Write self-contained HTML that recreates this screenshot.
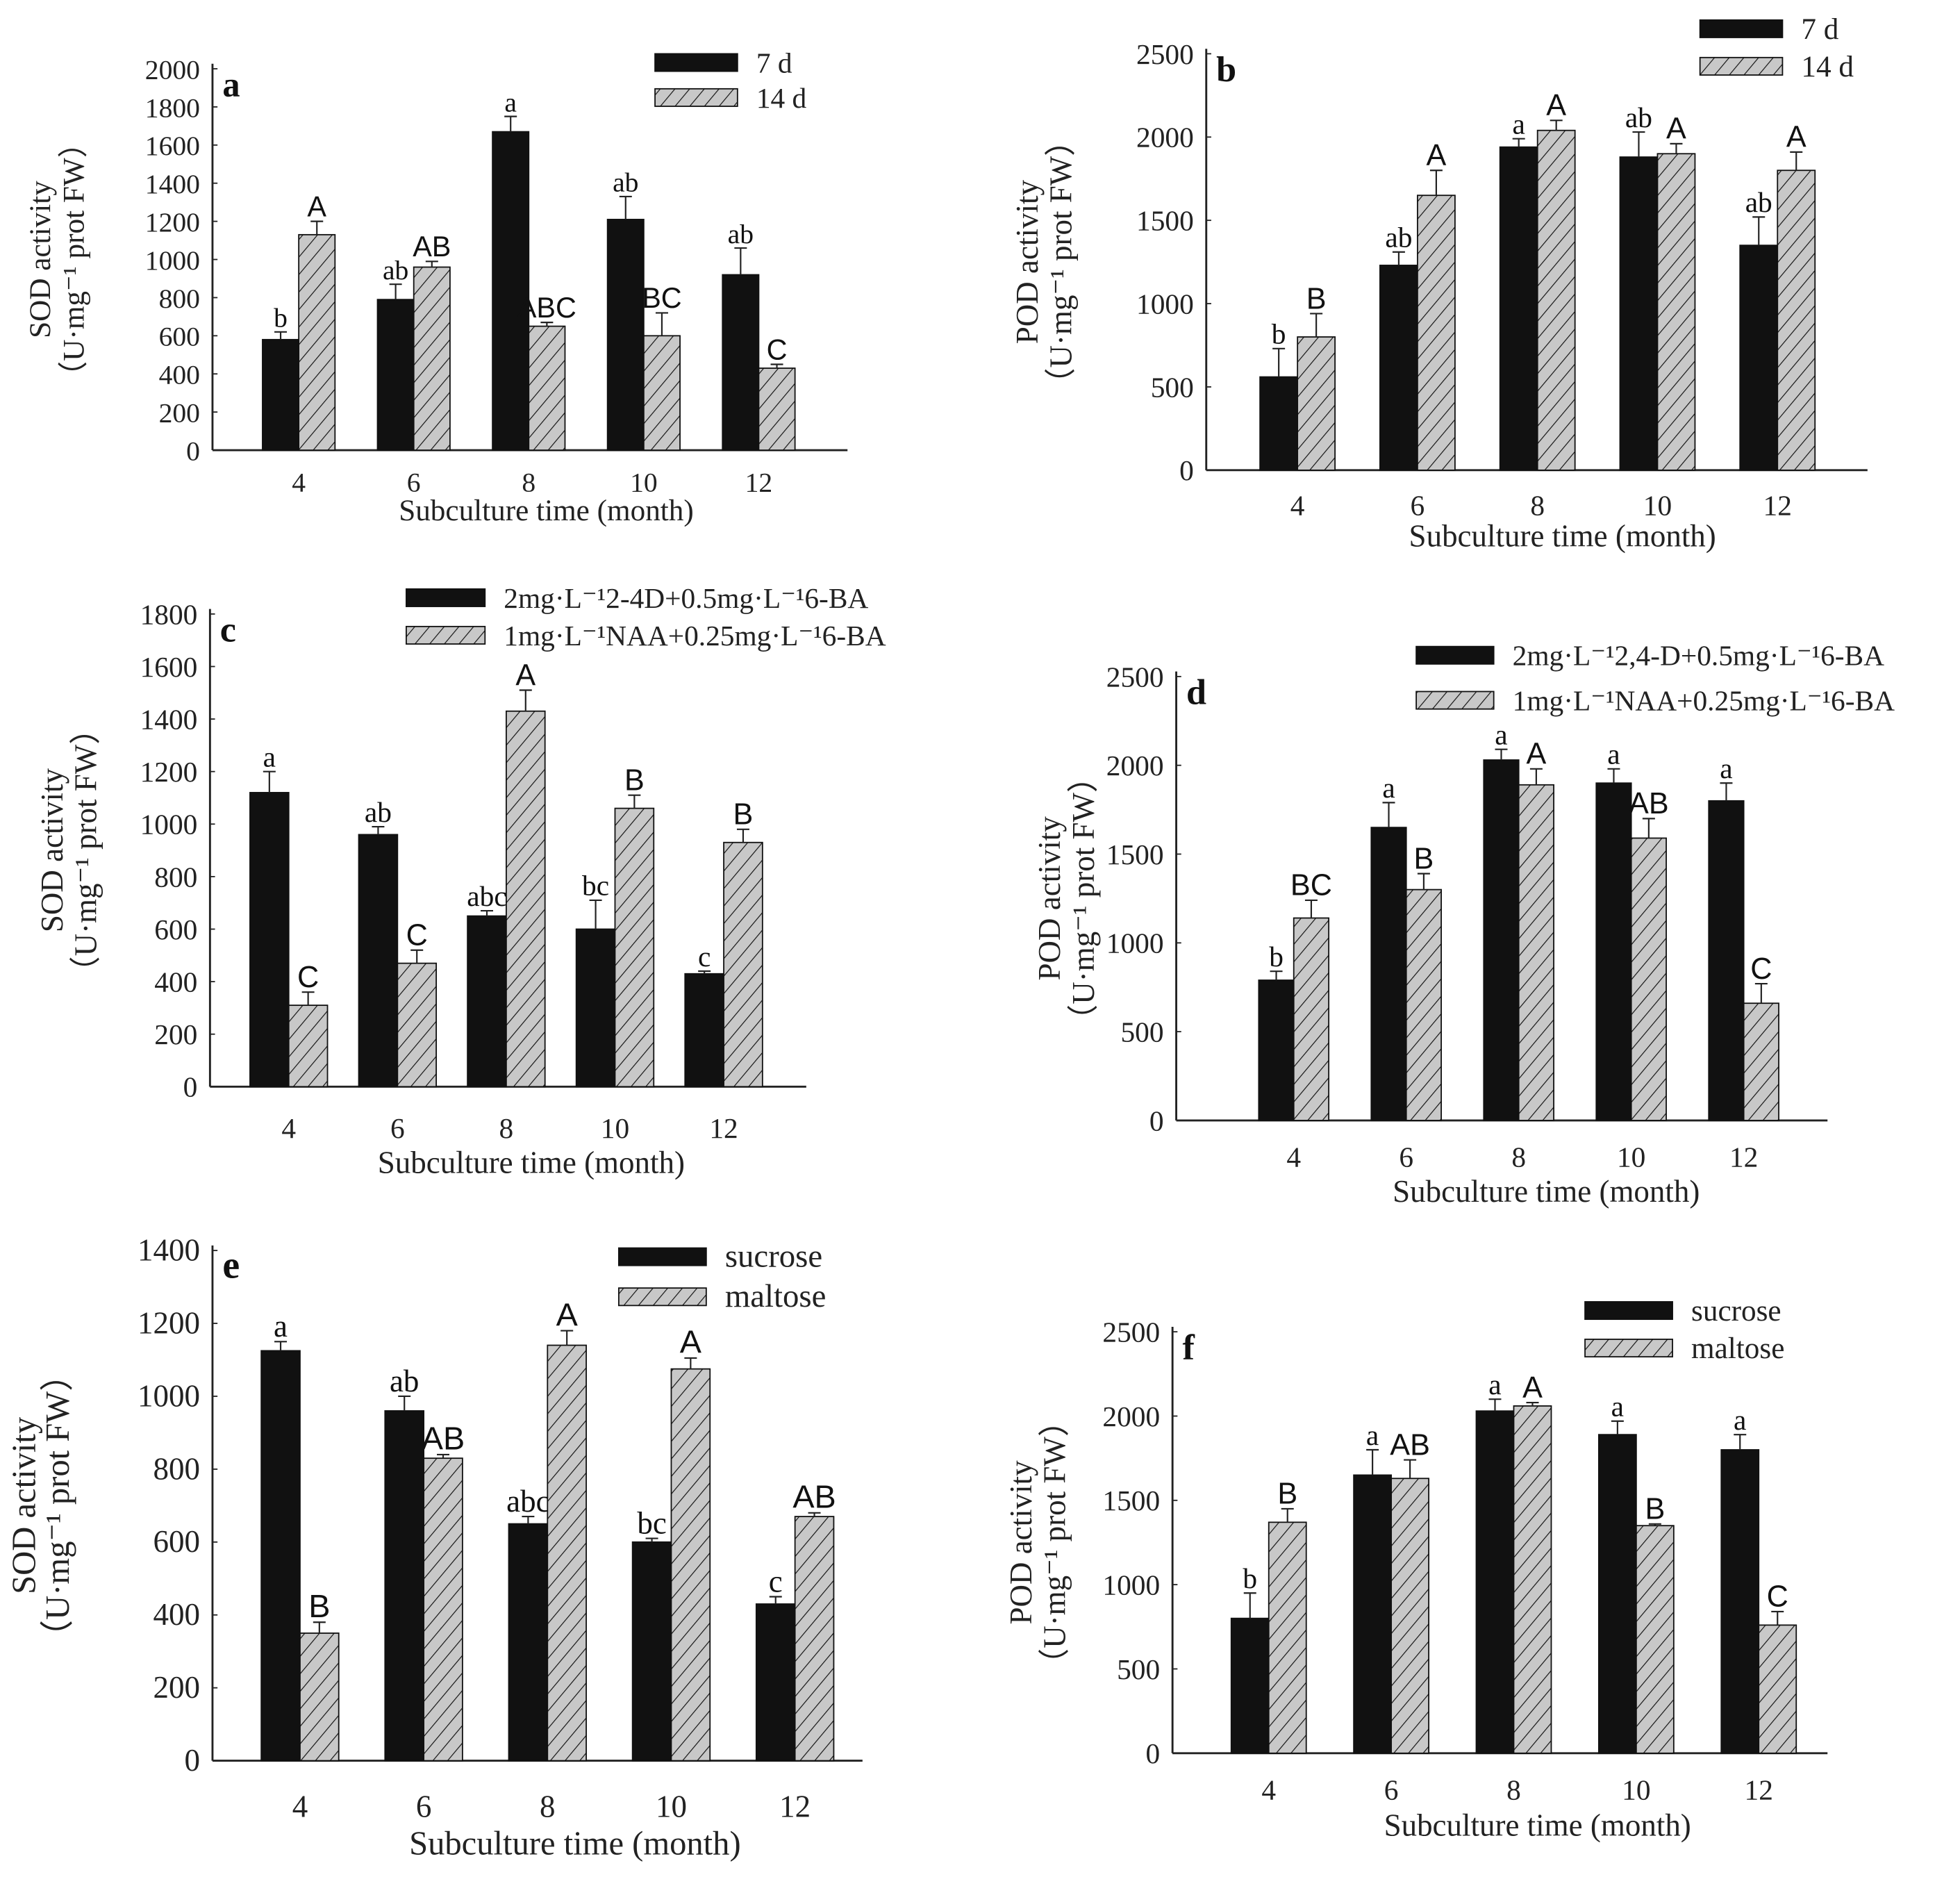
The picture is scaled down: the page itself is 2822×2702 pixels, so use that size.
<!DOCTYPE html>
<html><head><meta charset="utf-8">
<style>
html,body{margin:0;padding:0;background:#fff;}
svg{display:block;}
.serif{font-family:"Liberation Serif",serif;}
.sans{font-family:"Liberation Sans",sans-serif;}
</style></head>
<body>
<svg id="fig" xmlns="http://www.w3.org/2000/svg" width="2822" height="2702" viewBox="0 0 1568 1501" preserveAspectRatio="none">
<defs>
<pattern id="hatch" patternUnits="userSpaceOnUse" width="9" height="9" patternTransform="rotate(40)">
<rect width="9" height="9" fill="#c8c8c8"/>
<line x1="0" y1="0" x2="0" y2="9" stroke="#111" stroke-width="1.3"/>
</pattern>
</defs>
</svg>
<script>
// categories shared by all panels
const categories = ["4","6","8","10","12"];

// panel a
const aSeries1 = [580, 790, 1670, 1210, 920];
const aErr1 = [40, 80, 80, 120, 140];
const aSeries2 = [1130, 960, 650, 600, 430];
const aErr2 = [70, 30, 20, 120, 20];
const aLet1 = ["b","ab","a","ab","ab"];
const aLet2 = ["A","AB","ABC","BC","C"];
const aTicks = [0,200,400,600,800,1000,1200,1400,1600,1800,2000];
const aLegend = ["7 d","14 d"];

// panel b
const bSeries1 = [560, 1230, 1940, 1880, 1350];
const bErr1 = [170, 80, 50, 150, 170];
const bSeries2 = [800, 1650, 2040, 1900, 1800];
const bErr2 = [140, 150, 60, 60, 110];
const bLet1 = ["b","ab","a","ab","ab"];
const bLet2 = ["B","A","A","A","A"];
const bTicks = [0,500,1000,1500,2000,2500];
const bLegend = ["7 d","14 d"];

// panel c
const cSeries1 = [1120, 960, 650, 600, 430];
const cErr1 = [80, 30, 20, 110, 10];
const cSeries2 = [310, 470, 1430, 1060, 930];
const cErr2 = [50, 50, 80, 50, 50];
const cLet1 = ["a","ab","abc","bc","c"];
const cLet2 = ["C","C","A","B","B"];
const cTicks = [0,200,400,600,800,1000,1200,1400,1600,1800];
const cLegend = ["2mg·L⁻¹2-4D+0.5mg·L⁻¹6-BA","1mg·L⁻¹NAA+0.25mg·L⁻¹6-BA"];

// panel d
const dSeries1 = [790, 1650, 2030, 1900, 1800];
const dErr1 = [50, 140, 60, 80, 100];
const dSeries2 = [1140, 1300, 1890, 1590, 660];
const dErr2 = [100, 90, 90, 110, 110];
const dLet1 = ["b","a","a","a","a"];
const dLet2 = ["BC","B","A","AB","C"];
const dTicks = [0,500,1000,1500,2000,2500];
const dLegend = ["2mg·L⁻¹2,4-D+0.5mg·L⁻¹6-BA","1mg·L⁻¹NAA+0.25mg·L⁻¹6-BA"];

// panel e
const eSeries1 = [1125, 960, 650, 600, 430];
const eErr1 = [25, 40, 20, 10, 20];
const eSeries2 = [350, 830, 1140, 1075, 670];
const eErr2 = [30, 10, 40, 30, 10];
const eLet1 = ["a","ab","abc","bc","c"];
const eLet2 = ["B","AB","A","A","AB"];
const eTicks = [0,200,400,600,800,1000,1200,1400];
const eLegend = ["sucrose","maltose"];

// panel f
const fSeries1 = [800, 1650, 2030, 1890, 1800];
const fErr1 = [150, 150, 70, 80, 90];
const fSeries2 = [1370, 1630, 2060, 1350, 760];
const fErr2 = [80, 110, 20, 10, 80];
const fLet1 = ["b","a","a","a","a"];
const fLet2 = ["B","AB","A","B","C"];
const fTicks = [0,500,1000,1500,2000,2500];
const fLegend = ["sucrose","maltose"];

const NS = "http://www.w3.org/2000/svg";
const svg = document.getElementById("fig");
function mk(tag, attrs, parent, text){
  const e = document.createElementNS(NS, tag);
  for (const k in attrs) e.setAttribute(k, attrs[k]);
  if (text !== undefined) e.textContent = text;
  (parent||svg).appendChild(e);
  return e;
}

function panel(p){
  const g = mk("g", {});
  
  
  const maxT = p.ticks[p.ticks.length-1];
  const yS = v => p.y0 - (v/maxT)*(p.y0 - p.yTop);
  const xS = i => p.cx[0] + i*(p.cx[1]-p.cx[0]);
  const ya = mk("line", {x1:p.ax, y1:p.yTop-4, x2:p.ax, y2:p.y0, stroke:"#222", "stroke-width":1.6}, g);
  
  
  const xa = mk("line", {x1:p.ax, y1:p.y0, x2:p.xr, y2:p.y0, stroke:"#222", "stroke-width":1.6}, g);
  
  
  p.ticks.forEach(t => {
    mk("line", {x1:p.ax, y1:yS(t), x2:p.ax+4, y2:yS(t), stroke:"#222", "stroke-width":1}, g);
    const tl = mk("text", {x:p.ax-10, y:yS(t)+8, "text-anchor":"end", "font-size":p.fs, class:"serif", fill:"#222"}, g, String(t));
    
    
  });
  categories.forEach((c,i) => {
    const xl = mk("text", {x:xS(i), y:p.tickY, "text-anchor":"middle", "font-size":p.fs, class:"serif", fill:"#222"}, g, c);
    
    
  });
  const xt = mk("text", {x:p.titleX, y:p.titleY, "text-anchor":"middle", "font-size":p.fs+2, class:"serif", fill:"#222"}, g, "Subculture time (month)");
  
  
  const ymid = (p.y0+p.yTop)/2;
  const yt = mk("text", {transform:`translate(${p.ytx},${ymid}) rotate(-90)`, "text-anchor":"middle", "font-size":p.fs+2, class:"serif", fill:"#222"}, g, p.ytitle);
  
  
  const yu = mk("text", {transform:`translate(${p.ytx+27},${ymid}) rotate(-90)`, "text-anchor":"middle", "font-size":p.fs+2, class:"serif", fill:"#222"}, g, "（U·mg⁻¹ prot FW）");
  
  
  const pl = mk("text", {x:p.ax+8, y:p.yTop+22, "font-size":p.fs+6, "font-weight":"bold", class:"serif", fill:"#111"}, g, p.id);
  
  
  const series = [[p.s1,p.e1,p.l1,"#111","serif"],[p.s2,p.e2,p.l2,"url(#hatch)","sans"]];
  series.forEach((s,si) => {
    s[0].forEach((v,i) => {
      const x = si===0 ? xS(i)-p.bw : xS(i);
      const r = mk("rect", {x:x, y:yS(v), width:p.bw, height:p.y0-yS(v), fill:s[3], stroke:"#111", "stroke-width":1}, g);
      
      
      const cx = x + p.bw/2;
      const top = yS(v + s[1][i]);
      const eb = mk("path", {d:`M${cx},${yS(v)} V${top} M${cx-5},${top} H${cx+5}`, stroke:"#222", "stroke-width":1.2, fill:"none"}, g);
      
      
      const lt = mk("text", {x:cx, y:top-4, "text-anchor":"middle", "font-size":si===0?p.fs:p.fs+1, class:s[4], fill:"#111"}, g, s[2][i]);
      
      
    });
  });
  [[p.leg[0],"#111"],[p.leg[1],"url(#hatch)"]].forEach((L,k) => {
    const ly = p.legY + k*p.legDy;
    const lr = mk("rect", {x:p.legX, y:ly-7, width:p.legW, height:14, fill:L[1], stroke:"#111", "stroke-width":1}, g);
    
    
    const lt = mk("text", {x:p.legX+p.legW+15, y:ly+8, "font-size":p.legFs, class:"serif", fill:"#222"}, g, L[0]);
    
    
  });
}

panel({id:"a", ax:170, xr:678, y0:360, yTop:55, cx:[239,331], bw:29, ticks:aTicks, s1:aSeries1, e1:aErr1, s2:aSeries2, e2:aErr2, l1:aLet1, l2:aLet2, fs:22, tickY:393, titleX:437, titleY:416, ytx:40, ytitle:"SOD activity", leg:aLegend, legX:524, legW:66, legY:50, legDy:28, legFs:23});
panel({id:"b", ax:965, xr:1494, y0:376, yTop:43, cx:[1038,1134], bw:30, ticks:bTicks, s1:bSeries1, e1:bErr1, s2:bSeries2, e2:bErr2, l1:bLet1, l2:bLet2, fs:23, tickY:412, titleX:1250, titleY:437, ytx:830, ytitle:"POD activity", leg:bLegend, legX:1360, legW:66, legY:23, legDy:30, legFs:24});
panel({id:"c", ax:168, xr:645, y0:869, yTop:491, cx:[231,318], bw:31, ticks:cTicks, s1:cSeries1, e1:cErr1, s2:cSeries2, e2:cErr2, l1:cLet1, l2:cLet2, fs:23, tickY:910, titleX:425, titleY:938, ytx:50, ytitle:"SOD activity", leg:cLegend, legX:325, legW:63, legY:478, legDy:30, legFs:23});
panel({id:"d", ax:941, xr:1462, y0:896, yTop:541, cx:[1035,1125], bw:28, ticks:dTicks, s1:dSeries1, e1:dErr1, s2:dSeries2, e2:dErr2, l1:dLet1, l2:dLet2, fs:23, tickY:933, titleX:1237, titleY:961, ytx:848, ytitle:"POD activity", leg:dLegend, legX:1133, legW:62, legY:524, legDy:36, legFs:23});
panel({id:"e", ax:170, xr:690, y0:1408, yTop:1000, cx:[240,339], bw:31, ticks:eTicks, s1:eSeries1, e1:eErr1, s2:eSeries2, e2:eErr2, l1:eLet1, l2:eLet2, fs:25, tickY:1453, titleX:460, titleY:1483, ytx:28, ytitle:"SOD activity", leg:eLegend, legX:495, legW:70, legY:1005, legDy:32, legFs:26});
panel({id:"f", ax:938, xr:1462, y0:1402, yTop:1065, cx:[1015,1113], bw:30, ticks:fTicks, s1:fSeries1, e1:fErr1, s2:fSeries2, e2:fErr2, l1:fLet1, l2:fLet2, fs:23, tickY:1439, titleX:1230, titleY:1468, ytx:825, ytitle:"POD activity", leg:fLegend, legX:1268, legW:70, legY:1048, legDy:30, legFs:24});
</script>
</body></html>
